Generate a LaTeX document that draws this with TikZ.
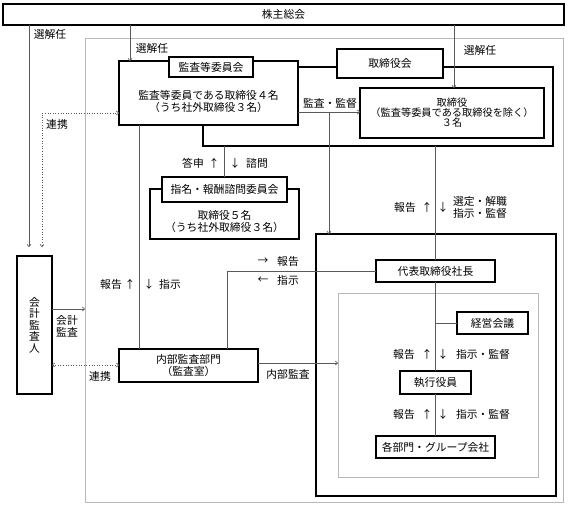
\documentclass[tikz,border=0pt]{standalone}
\usepackage{fontspec}
\setmainfont{Noto Sans CJK JP}
\usetikzlibrary{arrows.meta,positioning}

\begin{document}
\begin{tikzpicture}[x=1pt,y=-1pt,
  font=\fontsize{10.8}{12}\selectfont,
  bx/.style={draw,line width=1.1pt,fill=white,inner sep=0pt,outer sep=0pt,align=center},
  fr/.style={draw=black!28,line width=1pt,inner sep=0pt,outer sep=0pt},
  ln/.style={draw=black!65,line width=0.6pt},
  ar/.style={ln,-{To[length=3pt,width=4.5pt]}},
  dl/.style={ln,dotted,{To[length=3pt,width=4.5pt]}-{To[length=3pt,width=4.5pt]}},
  tx/.style={inner sep=0pt,align=center}]
\useasboundingbox (0,0) rectangle (571,509);

% frames
\node[fr,minimum width=478,minimum height=464] (grp) at (324,270) {};
\node[fr,draw=black,line width=1.1pt,minimum width=240,minimum height=262] (exe) at (436,365) {};
\node[fr,minimum width=200,minimum height=184] (ops) at (438,385) {};

% boxes
\node[bx,minimum width=561,minimum height=21] (sk) at (283.5,14.5) {株主総会};
\node[bx,minimum width=179,minimum height=64] (ka) at (208.5,93) {};
\node[tx] (kat) at (208.5,101) {監査等委員である取締役４名\\（うち社外取締役３名）};
\node[bx,minimum width=84,minimum height=20] (kh) at (211,67) {監査等委員会};
\node[bx,minimum width=106,minimum height=29] (tk) at (390,63.5) {取締役会};
\node[bx,minimum width=184,minimum height=50,font=\fontsize{10.2}{10}\selectfont] (tb) at (452,113)
  {取締役\\（監査等委員である取締役を除く）\\３名};
\node[bx,minimum width=149,minimum height=50] (sb) at (224.5,214) {};
\node[tx] (sbt) at (224.5,221) {取締役５名\\（うち社外取締役３名）};
\node[bx,minimum width=125,minimum height=25] (sh) at (224.5,189.5) {指名・報酬諮問委員会};
\node[bx,minimum width=35,minimum height=138,font=\fontsize{10.8}{11.5}\selectfont] (au) at (34.5,325)
  {会\\計\\監\\査\\人};
\node[bx,minimum width=139,minimum height=33] (na) at (188.5,365.5) {内部監査部門\\（監査室）};
\node[bx,minimum width=119,minimum height=22] (dh) at (435.5,271) {代表取締役社長};
\node[bx,minimum width=71,minimum height=22] (kg) at (492.5,323) {経営会議};
\node[bx,minimum width=71,minimum height=23] (sy) at (435.5,382.5) {執行役員};
\node[bx,minimum width=119,minimum height=22] (kb) at (435.5,447) {各部門・グループ会社};

% board of directors frame
\coordinate (bf1) at (553,67);
\coordinate (bf2) at (553,146);
\coordinate (bf3) at (203,146);
\draw[line width=1.1pt] (ka.east |- bf1) -- (tk.west |- bf1);
\draw[line width=1.1pt] (tk.east |- bf1) -- (bf1) -- (bf2) -- (bf3) -- (ka.south -| bf3);

% connectors
\coordinate (t1) at (29,247);
\coordinate (t2) at (42,247);
\coordinate (t3) at (329,112);
\draw[ar] (sk.south -| t1) -- (t1);
\draw[dl] (ka.west |- 0,113) -| (t2);
\draw[ar] (sk.south -| 130,0) -- (ka.north -| 130,0);
\draw[ar] (sk.south -| 454,0) -- (tb.north -| 454,0);
\draw[ar] (ka.east |- t3) -- (tb.west |- t3);
\draw[ar] (t3) -- (exe.north -| t3);
\draw[ln] (bf3 -| sh.north) -- (sh.north);
\draw[ln] (ka.south -| 139,0) -- (na.north -| 139,0);
\draw[ln] (na.north -| 227,0) |- (dh.west);
\draw[ar] (na.east |- 0,363) -- (ops.west |- 0,363);
\draw[ar] (au.east |- 0,309) -- (grp.west |- 0,309);
\draw[dl] (au.east |- 0,365) -- (na.west |- 0,365);
\draw[ln] (bf3 -| dh.north) -- (dh.north);
\draw[ln] (dh.south) -- (sy.north);
\draw[ln] (sy.south) -- (kb.north);
\draw[ln] (kg.west) -- (kg.west -| dh.south);

% labels
\node[tx] (l0) at (50,34) {選解任};
\node[tx] (l1) at (152,48) {選解任};
\node[tx] (l2) at (480,50) {選解任};
\node[tx] (l3) at (57,124) {連携};
\node[tx] (l4) at (100,376) {連携};
\node[tx] (l5) at (67,326.5) {会計\\監査};
\node[tx] (l6) at (330,103) {監査・監督};
\node[tx] (l7) at (288,374) {内部監査};
\node[tx] (l8) at (480,207) {選定・解職\\指示・監督};
\foreach \t/\x/\y [count=\i] in {答申/193/163, ↑/214/163, ↓/235/163, 諮問/257/163,
    報告/111/284, ↑/130/284, ↓/149/284, 指示/170/284,
    →/263/261, 報告/288/261, ←/263/280, 指示/288/280,
    報告/405/207, ↑/427/207, ↓/443/207,
    報告/404/354, ↑/427/354, ↓/443/354, 指示・監督/483/354,
    報告/404/414, ↑/427/414, ↓/443/414, 指示・監督/483/414}
  \node[tx] (r\i) at (\x,\y) {\t};
\end{tikzpicture}
\end{document}
